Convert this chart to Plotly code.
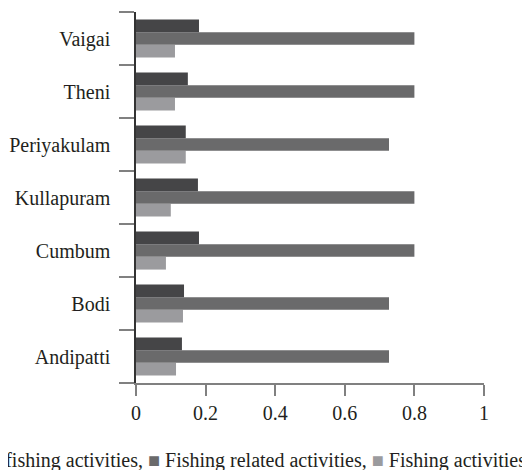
import plotly.graph_objects as go

categories = ["Andipatti", "Bodi", "Cumbum", "Kullapuram", "Periyakulam", "Theni", "Vaigai"]
non_fishing = [0.132, 0.138, 0.181, 0.178, 0.143, 0.149, 0.181]
fishing_related = [0.727, 0.727, 0.8, 0.8, 0.727, 0.8, 0.8]
fishing = [0.115, 0.135, 0.086, 0.1, 0.143, 0.112, 0.112]
x_ticks = [0, 0.2, 0.4, 0.6, 0.8, 1]
x_tick_labels = ["0", "0.2", "0.4", "0.6", "0.8", "1"]

c_dark = "#454547"
c_mid = "#6a6a6b"
c_light = "#9b9b9e"
font_family = "Liberation Serif"
text_color = "#231f20"

W, H = 522, 462
ML, MR, MT, MB = 128, 46, 4, 87

fig = go.Figure()
fig.add_trace(go.Bar(y=categories, x=fishing, orientation="h", name="Fishing activities",
                     marker=dict(color=c_light, line=dict(width=0))))
fig.add_trace(go.Bar(y=categories, x=fishing_related, orientation="h", name="Fishing related activities",
                     marker=dict(color=c_mid, line=dict(width=0))))
fig.add_trace(go.Bar(y=categories, x=non_fishing, orientation="h", name="Non-fishing activities",
                     marker=dict(color=c_dark, line=dict(width=0))))

legend_text = (
    f"<span style='color:{c_dark}'>■</span> Non-fishing activities, "
    f"<span style='color:{c_mid}'>■</span> Fishing related activities, "
    f"<span style='color:{c_light}'>■</span> Fishing activities"
)

pw = W - ML - MR
ph = H - MT - MB

fig.update_layout(
    width=W, height=H,
    margin=dict(l=ML, r=MR, t=MT, b=MB),
    paper_bgcolor="white", plot_bgcolor="white",
    barmode="group", bargap=0.28, bargroupgap=0,
    showlegend=False,
    font=dict(family=font_family, size=20, color=text_color),
    xaxis=dict(
        range=[0, 1], tickvals=x_ticks, ticktext=x_tick_labels,
        showgrid=False, zeroline=False, automargin=False,
        showline=True, linecolor="#808080", linewidth=1.5,
        ticks="outside", ticklen=11, tickcolor="#808080", tickwidth=1.5,
        tickfont=dict(family=font_family, size=20, color=text_color),
    ),
    yaxis=dict(
        type="category", categoryorder="array", categoryarray=categories,
        showgrid=False, zeroline=False, automargin=False,
        showline=True, linecolor="#333333", linewidth=1.5,
        ticks="outside", ticklen=15, tickcolor="#808080", tickwidth=1.5,
        tickson="boundaries", ticklabelstandoff=20,
        tickfont=dict(family=font_family, size=20, color=text_color),
    ),
    annotations=[dict(
        text=legend_text, xref="paper", yref="paper",
        x=(520 - ML) / pw, y=-(452 - (H - MB)) / ph,
        xanchor="right", yanchor="middle", showarrow=False,
        font=dict(family=font_family, size=20, color=text_color),
    )],
)

fig.write_html("out.html")
